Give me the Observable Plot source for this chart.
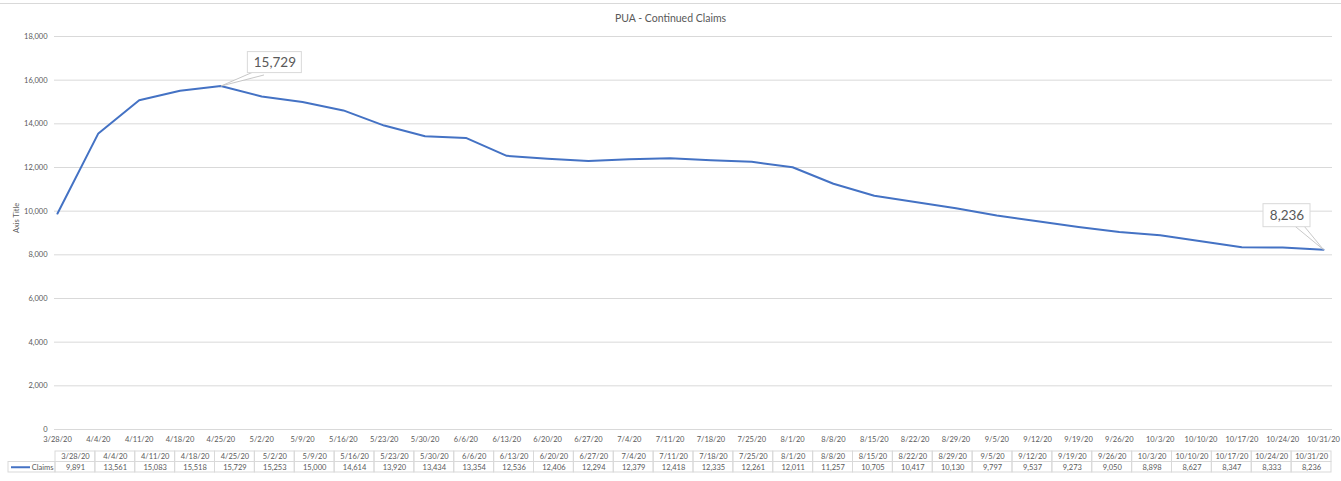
<!DOCTYPE html>
<html>
<head>
<meta charset="utf-8">
<script src="https://cdn.jsdelivr.net/npm/d3@7"></script>
<script src="https://cdn.jsdelivr.net/npm/@observablehq/plot@0.6"></script>
<style>
  html, body { margin: 0; padding: 0; background: #fff; }
  #wrap { position: relative; width: 1341px; height: 481px; overflow: hidden; }
  #topline { position: absolute; left: 0; top: 3px; width: 1341px; height: 1px; background: #d9d9d9; }
  #wrap svg { display: block; }
</style>
</head>
<body>
<div id="wrap"><div id="topline"></div></div>
<script>
// ---- data ----
const dates = ["3/28/20","4/4/20","4/11/20","4/18/20","4/25/20","5/2/20","5/9/20","5/16/20","5/23/20","5/30/20",
  "6/6/20","6/13/20","6/20/20","6/27/20","7/4/20","7/11/20","7/18/20","7/25/20","8/1/20","8/8/20","8/15/20",
  "8/22/20","8/29/20","9/5/20","9/12/20","9/19/20","9/26/20","10/3/20","10/10/20","10/17/20","10/24/20","10/31/20"];
const claims = [9891,13561,15083,15518,15729,15253,15000,14614,13920,13434,
  13354,12536,12406,12294,12379,12418,12335,12261,12011,11257,10705,
  10417,10130,9797,9537,9273,9050,8898,8627,8347,8333,8236];
const yTicks = [0,2000,4000,6000,8000,10000,12000,14000,16000,18000];
const seriesName = "Claims";
const chartTitle = "PUA - Continued Claims";
const axisTitle = "Axis Title";
const calloutIndex = [4, 31];

// ---- styling ----
const FONT = "Lato, 'Open Sans', 'Liberation Sans', sans-serif";
const GREY = "#595959";
const GRID = "#d9d9d9";
const BLUE = "#4472C4";
const fmt = d3.format(",");

const rows = dates.map((d, i) => ({date: d, value: claims[i], i}));
const callouts = calloutIndex.map(i => rows[i]);
// callout layout (pixel offsets): box centre offset, box size, wedge length & angle
const calloutLayout = [
  {dx: 54, dy: -23.5, w: 54, h: 21, len: 44, rot: 251},
  {dx: -36.5, dy: -34, w: 47, h: 23, len: 36, rot: 135}
];

const calloutMarks = callouts.flatMap((c, k) => {
  const L = calloutLayout[k];
  return [
    Plot.vector([c], {x: "date", y: "value", length: L.len, rotate: L.rot, anchor: "end",
      shape: "spike", r: 3.5, fill: "white", stroke: "#bfbfbf", strokeWidth: 0.8}),
    Plot.rect([c], {x1: "date", x2: "date", y1: "value", y2: "value",
      insetLeft: -L.w / 2, insetRight: -L.w / 2, insetTop: -L.h / 2, insetBottom: -L.h / 2,
      dx: L.dx, dy: L.dy, fill: "white", stroke: GRID, strokeWidth: 1}),
    Plot.text([c], {x: "date", y: "value", text: d => fmt(d.value), dx: L.dx, dy: L.dy,
      fill: GREY, fontSize: 13.5, fontFamily: FONT})
  ];
});

const W = 1341, plotLeft = 57, plotRight = 1323;

const main = Plot.plot({
  width: W, height: 447,
  marginTop: 36, marginBottom: 18, marginLeft: plotLeft, marginRight: W - plotRight,
  style: {fontFamily: FONT, background: "transparent", color: GREY},
  x: {type: "point", domain: dates, range: [plotLeft, plotRight], padding: 0, round: false, axis: null},
  y: {domain: [0, 18000], axis: null},
  marks: [
    Plot.ruleY(yTicks, {stroke: GRID, strokeWidth: 1, insetLeft: -3, insetRight: -9}),
    Plot.text(yTicks, {y: d => d, text: d => fmt(d), frameAnchor: "left", textAnchor: "end",
      dx: -10, fill: GREY, fontSize: 7.5}),
    Plot.text(dates, {x: d => d, text: d => d, frameAnchor: "bottom", lineAnchor: "middle", dy: 10, fill: GREY, fontSize: 7.5}),
    Plot.text([axisTitle], {text: d => d, frameAnchor: "left", rotate: -90, dx: -41, fill: GREY, fontSize: 7.5}),
    Plot.text([chartTitle], {text: d => d, frameAnchor: "top", lineAnchor: "middle", dy: -18, dx: -20,
      fill: GREY, fontSize: 10.5}),
    Plot.line(rows, {x: "date", y: "value", stroke: BLUE, strokeWidth: 2, strokeLinejoin: "round"}),
    ...calloutMarks
  ]
});

// ---- data table under the chart ----
const tableLeft = 55, tableRight = 1331;
const colW = (tableRight - tableLeft) / dates.length;
const legendStart = -47 / colW, swatchStart = -44 / colW, swatchEnd = -25 / colW, labelEnd = -2 / colW;
const cells = rows.flatMap(r => [{i: r.i, row: 0}, {i: r.i, row: 1}]);

const table = Plot.plot({
  width: W, height: 34,
  marginTop: 4, marginBottom: 9, marginLeft: tableLeft, marginRight: W - tableRight,
  style: {fontFamily: FONT, background: "transparent", color: GREY},
  x: {domain: [0, dates.length], axis: null},
  y: {domain: [0, 2], reverse: true, axis: null},
  marks: [
    Plot.rect(cells, {x1: d => d.i, x2: d => d.i + 1, y1: d => d.row, y2: d => d.row + 1,
      fill: "none", stroke: GRID, strokeWidth: 1}),
    Plot.rect([0], {x1: legendStart, x2: 0, y1: 1, y2: 2, fill: "none", stroke: GRID, strokeWidth: 1}),
    Plot.ruleY([1.5], {x1: swatchStart, x2: swatchEnd, stroke: BLUE, strokeWidth: 2}),
    Plot.text([seriesName], {x: labelEnd, y: 1.5, text: d => d, textAnchor: "end", fill: GREY, fontSize: 7.5}),
    Plot.text(rows, {x: d => d.i + 0.5, y: 0.5, text: "date", fill: GREY, fontSize: 7.5}),
    Plot.text(rows, {x: d => d.i + 0.5, y: 1.5, text: d => fmt(d.value), fill: GREY, fontSize: 7.5})
  ]
});

const wrap = document.getElementById("wrap");
wrap.appendChild(main);
wrap.appendChild(table);
</script>
</body>
</html>
